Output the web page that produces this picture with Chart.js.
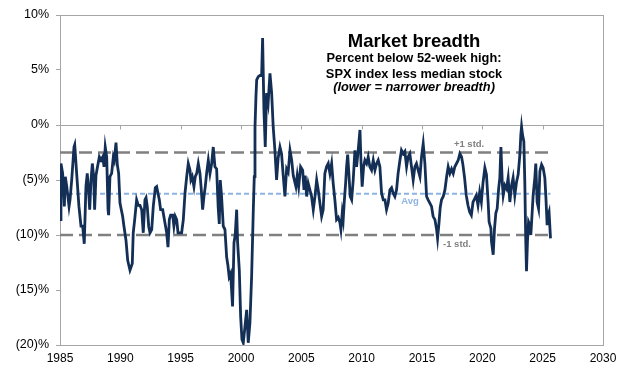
<!DOCTYPE html>
<html>
<head>
<meta charset="utf-8">
<script src="https://cdn.jsdelivr.net/npm/chart.js@4/dist/chart.umd.min.js"></script>
<style>
  html, body { margin: 0; padding: 0; background: #fff; }
  #wrap { width: 642px; height: 378px; }
</style>
</head>
<body>
<div id="wrap"><canvas id="chart" width="642" height="378"></canvas></div>
<script>
// SPX % below 52-week high less median stock's % below 52-week high
const years = [
  1985.00, 1985.08, 1985.22, 1985.36, 1985.44, 1985.56, 1985.75, 1985.83, 1985.97, 1986.16,
  1986.22, 1986.38, 1986.57, 1986.74, 1986.88, 1987.01, 1987.15, 1987.26, 1987.38, 1987.46,
  1987.57, 1987.68, 1987.79, 1987.87, 1987.98, 1988.09, 1988.26, 1988.40, 1988.54, 1988.65,
  1988.75, 1988.87, 1988.98, 1989.03, 1989.14, 1989.28, 1989.42, 1989.50, 1989.64, 1989.75,
  1989.86, 1989.97, 1990.19, 1990.30, 1990.47, 1990.61, 1990.80, 1990.99, 1991.07, 1991.19,
  1991.35, 1991.49, 1991.63, 1991.77, 1991.90, 1992.04, 1992.13, 1992.23, 1992.35, 1992.46,
  1992.60, 1992.73, 1992.90, 1993.01, 1993.12, 1993.23, 1993.34, 1993.51, 1993.70, 1993.84,
  1993.95, 1994.06, 1994.17, 1994.34, 1994.44, 1994.55, 1994.67, 1994.78, 1994.88, 1995.08,
  1995.22, 1995.36, 1995.50, 1995.63, 1995.77, 1995.85, 1995.96, 1996.10, 1996.21, 1996.33,
  1996.46, 1996.60, 1996.71, 1996.82, 1996.93, 1997.04, 1997.15, 1997.29, 1997.43, 1997.57,
  1997.70, 1997.84, 1997.98, 1998.11, 1998.20, 1998.28, 1998.39, 1998.53, 1998.67, 1998.81,
  1998.92, 1999.02, 1999.14, 1999.30, 1999.42, 1999.52, 1999.64, 1999.72, 1999.86, 1999.97,
  2000.08, 2000.19, 2000.33, 2000.47, 2000.60, 2000.74, 2000.88, 2001.02, 2001.10, 2001.16,
  2001.24, 2001.30, 2001.43, 2001.57, 2001.71, 2001.79, 2001.90, 2002.01, 2002.12, 2002.25,
  2002.40, 2002.54, 2002.67, 2002.81, 2002.95, 2003.08, 2003.23, 2003.36, 2003.50, 2003.64,
  2003.78, 2003.91, 2004.06, 2004.20, 2004.33, 2004.55, 2004.66, 2004.78, 2004.94, 2005.11,
  2005.22, 2005.32, 2005.44, 2005.57, 2005.71, 2005.85, 2005.99, 2006.13, 2006.27, 2006.40,
  2006.54, 2006.68, 2006.81, 2006.95, 2007.09, 2007.23, 2007.37, 2007.51, 2007.64, 2007.78,
  2007.92, 2008.06, 2008.20, 2008.28, 2008.39, 2008.47, 2008.55, 2008.67, 2008.75, 2008.84,
  2008.94, 2009.05, 2009.17, 2009.30, 2009.44, 2009.58, 2009.71, 2009.86, 2009.94, 2010.04,
  2010.16, 2010.27, 2010.41, 2010.54, 2010.68, 2010.82, 2010.96, 2011.10, 2011.24, 2011.37,
  2011.51, 2011.65, 2011.79, 2011.93, 2012.06, 2012.20, 2012.34, 2012.48, 2012.61, 2012.75,
  2012.89, 2013.02, 2013.17, 2013.30, 2013.44, 2013.58, 2013.72, 2013.85, 2013.99, 2014.13,
  2014.27, 2014.41, 2014.54, 2014.68, 2014.83, 2014.96, 2015.10, 2015.24, 2015.38, 2015.51,
  2015.65, 2015.79, 2015.92, 2016.07, 2016.21, 2016.29, 2016.40, 2016.51, 2016.62, 2016.76,
  2016.90, 2017.04, 2017.17, 2017.31, 2017.45, 2017.59, 2017.72, 2017.86, 2018.00, 2018.14,
  2018.28, 2018.39, 2018.53, 2018.67, 2018.81, 2018.95, 2019.09, 2019.23, 2019.37, 2019.50,
  2019.64, 2019.78, 2019.92, 2020.06, 2020.21, 2020.34, 2020.48, 2020.56, 2020.71, 2020.76,
  2020.90, 2021.01, 2021.12, 2021.23, 2021.35, 2021.45, 2021.54, 2021.65, 2021.73, 2021.87,
  2022.01, 2022.14, 2022.28, 2022.42, 2022.55, 2022.69, 2022.83, 2022.97, 2023.11, 2023.19,
  2023.25, 2023.33, 2023.44, 2023.52, 2023.60, 2023.66, 2023.74, 2023.83, 2023.94, 2024.02,
  2024.10, 2024.21, 2024.35, 2024.43, 2024.54, 2024.66, 2024.77, 2024.91, 2025.04, 2025.18,
  2025.26, 2025.37, 2025.45, 2025.53, 2025.65
];
const breadth = [
  -8.6, -3.5, -4.4, -7.4, -4.7, -5.6, -7.4, -6.8, -5.0, -2.0,
  -1.8, -4.4, -7.4, -9.2, -9.2, -10.8, -5.6, -4.4, -6.2, -7.7,
  -5.0, -3.5, -4.7, -7.7, -4.6, -3.9, -2.9, -3.2, -2.9, -3.8,
  -2.0, -2.9, -7.7, -8.2, -4.7, -4.4, -2.9, -3.2, -1.6, -3.6,
  -4.4, -7.1, -8.3, -9.2, -10.5, -12.3, -13.2, -12.6, -9.8, -8.6,
  -6.8, -7.3, -7.3, -7.7, -9.8, -6.8, -6.6, -7.4, -9.2, -9.8,
  -9.5, -7.4, -5.7, -5.6, -6.2, -6.8, -7.7, -7.7, -8.9, -9.8,
  -11.1, -8.6, -8.2, -8.2, -9.2, -8.3, -8.6, -9.8, -9.8, -9.8,
  -8.6, -6.2, -4.7, -3.5, -4.1, -5.0, -4.7, -5.6, -4.7, -4.4,
  -3.5, -4.4, -5.9, -7.7, -6.5, -5.6, -4.4, -3.2, -4.4, -3.5,
  -2.0, -3.8, -4.0, -7.5, -9.0, -5.0, -6.5, -9.2, -9.5, -12.0,
  -12.8, -13.8, -13.5, -16.5, -10.7, -10.0, -7.7, -10.7, -13.2, -17.4,
  -19.5, -19.8, -18.3, -16.8, -19.8, -18.0, -13.8, -7.7, -4.7, -0.2,
  2.6, 4.1, 4.4, 4.5, 4.5, 7.9, 1.4, -2.0, 2.9, 2.0,
  4.7, 2.9, -0.2, -2.3, -5.0, -3.0, -2.0, -2.6, -4.6, -6.5,
  -4.0, -4.3, -2.3, -3.2, -4.6, -5.6, -4.6, -5.6, -3.8, -4.1,
  -5.9, -4.6, -6.5, -5.3, -5.9, -6.5, -7.7, -6.5, -5.0, -5.9,
  -7.1, -8.3, -7.7, -4.4, -3.8, -3.5, -4.4, -3.5, -5.3, -6.8,
  -8.6, -8.4, -8.9, -9.5, -8.0, -8.6, -7.1, -5.3, -3.8, -2.7,
  -4.4, -6.5, -6.8, -5.0, -2.3, -3.8, -2.3, -0.45, -3.2, -5.6,
  -3.8, -3.2, -3.5, -2.9, -3.8, -4.1, -3.2, -4.1, -3.5, -3.2,
  -3.8, -6.2, -6.8, -6.8, -7.7, -7.1, -5.9, -5.7, -6.2, -6.5,
  -5.9, -4.4, -3.2, -2.3, -2.6, -2.4, -3.8, -2.9, -2.6, -3.8,
  -5.0, -3.8, -3.5, -4.1, -4.7, -2.9, -1.7, -3.5, -6.5, -6.8,
  -7.1, -7.4, -8.3, -8.6, -9.5, -10.3, -9.0, -7.5, -6.8, -6.5,
  -5.9, -4.7, -3.8, -4.4, -4.0, -4.4, -3.8, -3.5, -3.2, -2.6,
  -2.9, -3.6, -4.8, -6.4, -7.3, -7.9, -8.2, -7.0, -6.7, -6.4,
  -7.3, -6.1, -7.0, -5.2, -3.9, -4.5, -7.0, -8.8, -9.4, -10.6,
  -11.8, -9.4, -8.0, -7.6, -5.8, -4.8, -2.0, -5.2, -6.4, -5.5,
  -5.8, -4.8, -7.0, -5.5, -4.8, -6.4, -5.2, -4.5, -2.7, -0.9,
  -0.15, -0.9, -1.5, -5.2, -10.6, -13.3, -10.6, -8.8, -9.1, -10.0,
  -8.5, -6.4, -4.8, -3.5, -7.0, -7.6, -4.2, -3.6, -3.9, -4.8,
  -6.4, -9.1, -8.2, -7.9, -10.3
];

// reference lines: +1 std, average, -1 std
const bandLevels = [-2.5, -6.25, -10.0];
const bandLabels = ['+1 std.', 'Avg', '-1 std.'];
const bandLabelYears = [2018.9, 2014.0, 2017.9];
const bandSpan = [1985, 2025.65];

const titleLines = [
  'Market breadth',
  'Percent below 52-week high:',
  'SPX index less median stock',
  '(lower = narrower breadth)'
];

const FONT = '"Liberation Sans", Arial, sans-serif';

function bandData(level) {
  return bandSpan.map(x => ({ x: x, y: level }));
}

const frame = {
  id: 'frame',
  beforeDatasetsDraw(chart) {
    const { ctx, chartArea: a, scales } = chart;
    ctx.save();
    ctx.strokeStyle = '#a6a6a6';
    ctx.lineWidth = 1;
    ctx.strokeRect(a.left + 0.5, a.top + 0.5, a.right - a.left, a.bottom - a.top);
    // category axis crosses at 0%
    const y0 = Math.round(scales.y.getPixelForValue(0)) + 0.5;
    ctx.beginPath();
    ctx.moveTo(a.left, y0);
    ctx.lineTo(a.right, y0);
    for (let yr = 1990; yr <= 2025; yr += 5) {
      const x = Math.round(scales.x.getPixelForValue(yr)) + 0.5;
      ctx.moveTo(x, y0);
      ctx.lineTo(x, y0 + 4);
    }
    ctx.stroke();
    ctx.restore();
  },
  afterDatasetsDraw(chart) {
    const { ctx, chartArea: a, scales } = chart;
    ctx.save();
    ctx.textAlign = 'center';
    ctx.textBaseline = 'alphabetic';
    ctx.fillStyle = '#000';
    const cx = a.left + (a.right - a.left) * 0.652;
    ctx.font = 'bold 18.5px ' + FONT;
    ctx.fillText(titleLines[0], cx, a.top + 32);
    ctx.font = 'bold 12.8px ' + FONT;
    ctx.fillText(titleLines[1], cx, a.top + 47);
    ctx.fillText(titleLines[2], cx, a.top + 62.5);
    ctx.font = 'italic bold 12.8px ' + FONT;
    ctx.fillText(titleLines[3], cx, a.top + 76);

    ctx.font = 'bold 9.5px ' + FONT;
    ctx.textBaseline = 'middle';
    const offs = [-8, 8, 9];
    bandLabels.forEach((t, i) => {
      ctx.fillStyle = i === 1 ? '#8db3e2' : '#7f7f7f';
      ctx.fillText(t, scales.x.getPixelForValue(bandLabelYears[i]),
        scales.y.getPixelForValue(bandLevels[i]) + offs[i]);
    });
    ctx.restore();
  }
};

new Chart(document.getElementById('chart'), {
  type: 'line',
  data: {
    datasets: [
      {
        label: 'Breadth',
        data: years.map((x, i) => ({ x: x, y: breadth[i] })),
        borderColor: '#142f55',
        borderWidth: 2.8,
        pointRadius: 0,
        tension: 0
      },
      {
        label: '+1 std',
        data: bandData(bandLevels[0]),
        borderColor: '#808080',
        borderWidth: 2.5,
        borderDash: [13, 6],
        pointRadius: 0
      },
      {
        label: 'Avg',
        data: bandData(bandLevels[1]),
        borderColor: '#8db3e2',
        borderWidth: 1.8,
        borderDash: [5, 3],
        pointRadius: 0
      },
      {
        label: '-1 std',
        data: bandData(bandLevels[2]),
        borderColor: '#808080',
        borderWidth: 2.5,
        borderDash: [13, 6],
        pointRadius: 0
      }
    ]
  },
  options: {
    responsive: false,
    animation: false,
    layout: { padding: { top: 15, right: 39, left: 0, bottom: 0 } },
    plugins: { legend: { display: false }, tooltip: { enabled: false } },
    scales: {
      x: {
        type: 'linear',
        min: 1985,
        max: 2030,
        afterFit: s => { s.height = 33; },
        ticks: {
          stepSize: 5,
          padding: 6,
          maxRotation: 0,
          color: '#000',
          font: { family: FONT, size: 12 },
          callback: v => String(v)
        },
        grid: { display: false, drawTicks: false },
        border: { display: false }
      },
      y: {
        min: -20,
        max: 10,
        afterFit: s => { s.width = 60; },
        ticks: {
          stepSize: 5,
          padding: 7,
          color: '#000',
          font: { family: FONT, size: 12.5 },
          callback: v => v < 0 ? '(' + (-v) + ')%' : v + '%'
        },
        grid: { drawOnChartArea: false, tickLength: 4, color: '#a6a6a6' },
        border: { display: true, color: '#a6a6a6' }
      }
    }
  },
  plugins: [frame]
});
</script>
</body>
</html>
